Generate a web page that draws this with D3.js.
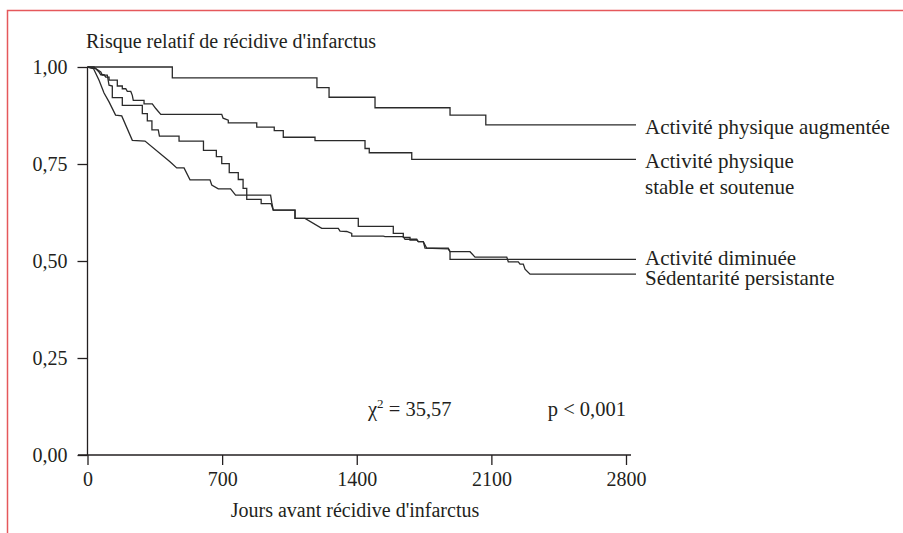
<!DOCTYPE html>
<html>
<head>
<meta charset="utf-8">
<script src="https://cdn.jsdelivr.net/npm/d3@7"></script>
<style>
  html, body { margin: 0; padding: 0; background: #fff; }
  svg text { font-family: "Liberation Serif", "Times New Roman", serif; fill: #231f20; }
</style>
</head>
<body>
<svg id="chart" width="903" height="533"></svg>
<script>
// survival curves: [day, relative risk]
const augmentee = [[0,1],[441,1],[441,0.972],[1193,0.972],[1193,0.947],[1256,0.947],[1256,0.922],
  [1495,0.922],[1495,0.895],[1885,0.895],[1885,0.876],[2071,0.876],[2071,0.851],[2852,0.851]];

const stable = [[0,1],[34,1],[60,0.987],[69,0.980],[86,0.980],[95,0.974],[112,0.974],[112,0.966],
  [155,0.966],[155,0.951],[181,0.951],[181,0.944],[199,0.944],[207,0.937],[225,0.937],[233,0.927],
  [238,0.914],[294,0.914],[294,0.905],[337,0.905],[355,0.893],[381,0.878],[698,0.878],[705,0.868],
  [732,0.863],[732,0.856],[880,0.856],[880,0.845],[971,0.845],[971,0.836],[1018,0.836],[1018,0.819],
  [1183,0.819],[1183,0.810],[1443,0.810],[1443,0.790],[1465,0.790],[1465,0.779],[1686,0.779],
  [1686,0.762],[2852,0.762]];

const diminuee = [[0,1],[43,0.996],[69,0.987],[77,0.979],[103,0.979],[112,0.953],[129,0.951],
  [129,0.921],[181,0.921],[181,0.901],[285,0.901],[285,0.880],[311,0.880],[311,0.861],[335,0.861],
  [335,0.838],[368,0.838],[374,0.822],[476,0.822],[476,0.809],[603,0.809],[603,0.785],[670,0.785],
  [670,0.769],[698,0.769],[698,0.751],[737,0.751],[737,0.728],[784,0.728],[784,0.710],[809,0.710],
  [809,0.687],[828,0.687],[828,0.659],[903,0.659],[903,0.648],[954,0.648],[966,0.631],[1079,0.631],
  [1079,0.610],[1408,0.610],[1408,0.589],[1590,0.589],[1590,0.571],[1642,0.571],[1642,0.561],
  [1677,0.561],[1677,0.554],[1712,0.554],[1720,0.550],[1746,0.550],[1764,0.533],[1876,0.533],
  [1885,0.524],[1885,0.504],[2852,0.504]];

const sedentarite = [[0,1],[31,0.996],[60,0.966],[86,0.933],[112,0.910],[146,0.876],[178,0.874],
  [233,0.811],[299,0.809],[429,0.756],[464,0.740],[502,0.740],[533,0.709],[637,0.709],[646,0.696],
  [680,0.686],[744,0.686],[770,0.670],[952,0.670],[958,0.651],[966,0.631],[1079,0.631],[1079,0.610],
  [1131,0.610],[1218,0.584],[1304,0.584],[1313,0.577],[1348,0.576],[1374,0.571],[1374,0.564],
  [1538,0.564],[1547,0.563],[1642,0.563],[1651,0.556],[1712,0.556],[1720,0.550],[1746,0.550],
  [1755,0.533],[1876,0.531],[1885,0.524],[1989,0.524],[2015,0.510],[2180,0.510],[2188,0.498],
  [2240,0.498],[2249,0.492],[2266,0.492],[2275,0.479],[2301,0.466],[2852,0.466]];

const xTicks = [0, 700, 1400, 2100, 2800];
const yTicks = [0, 0.25, 0.5, 0.75, 1];

const seriesLabels = [
  { data: augmentee,   lines: ["Activité physique augmentée"], dy: 2 },
  { data: stable,      lines: ["Activité physique", "stable et soutenue"], dy: 1 },
  { data: diminuee,    lines: ["Activité diminuée"], dy: -2 },
  { data: sedentarite, lines: ["Sédentarité persistante"], dy: 3 }
];

const svg = d3.select('#chart');

// red frame (left and top edges only)
svg.append('path')
  .attr('d', 'M7.5,533V10.5H903')
  .attr('fill', 'none')
  .attr('stroke', '#e5585b')
  .attr('stroke-width', 1.5);

const x = d3.scaleLinear().domain([0, 2800]).range([87.5, 626]);
const y = d3.scaleLinear().domain([0, 1]).range([455, 67]);

const fmt = d => d3.format('.2f')(d).replace('.', ',');

const gx = svg.append('g')
  .attr('transform', `translate(0,${y(0)})`)
  .call(d3.axisBottom(x).tickValues(xTicks).tickSize(10).tickPadding(7).tickFormat(d3.format('d')));
gx.select('.domain').remove();
gx.append('line').attr('x1', 78).attr('x2', 631).attr('stroke', '#231f20').attr('stroke-width', 1.3);

const gy = svg.append('g')
  .attr('transform', `translate(${x(0)},0)`)
  .call(d3.axisLeft(y).tickValues(yTicks).tickSize(10).tickPadding(10).tickFormat(fmt));
gy.select('.domain').remove();
gy.append('line').attr('y1', y(0)).attr('y2', y(1)).attr('stroke', '#231f20').attr('stroke-width', 1.3);

svg.selectAll('.tick line').attr('stroke', '#231f20').attr('stroke-width', 1.3);
svg.selectAll('.tick text')
  .style('font-family', '"Liberation Serif", serif')
  .style('font-size', '20px')
  .attr('fill', '#231f20');

// curves
const line = d3.line().x(d => x(d[0])).y(d => y(d[1]));
svg.append('g')
  .selectAll('path')
  .data(seriesLabels)
  .join('path')
  .attr('d', s => line(s.data))
  .attr('fill', 'none')
  .attr('stroke', '#2a2a2a')
  .attr('stroke-width', 1.3);

// labels at the end of each curve
seriesLabels.forEach(s => {
  const last = s.data[s.data.length - 1];
  const t = svg.append('text')
    .attr('x', x(last[0]) + 9)
    .attr('y', y(last[1]) + s.dy)
    .style('font-size', '21px');
  s.lines.forEach((ln, i) => {
    t.append('tspan')
      .attr('x', x(last[0]) + 9)
      .attr('dy', i === 0 ? '0.35em' : '1.24em')
      .text(ln);
  });
});

// titles
svg.append('text')
  .attr('x', 86).attr('y', 48)
  .style('font-size', '20px')
  .text("Risque relatif de récidive d'infarctus");

svg.append('text')
  .attr('x', 355).attr('y', 517)
  .attr('text-anchor', 'middle')
  .style('font-size', '20px')
  .text("Jours avant récidive d'infarctus");

// test statistics
const chi = svg.append('text').attr('x', 368).attr('y', 416).style('font-size', '20.5px');
chi.append('tspan').text('χ');
chi.append('tspan').attr('dy', -8).style('font-size', '13px').text('2');
chi.append('tspan').attr('dy', 8).text(' = 35,57');

svg.append('text')
  .attr('x', 626).attr('y', 416)
  .attr('text-anchor', 'end')
  .style('font-size', '20.5px')
  .text('p < 0,001');
</script>
</body>
</html>
